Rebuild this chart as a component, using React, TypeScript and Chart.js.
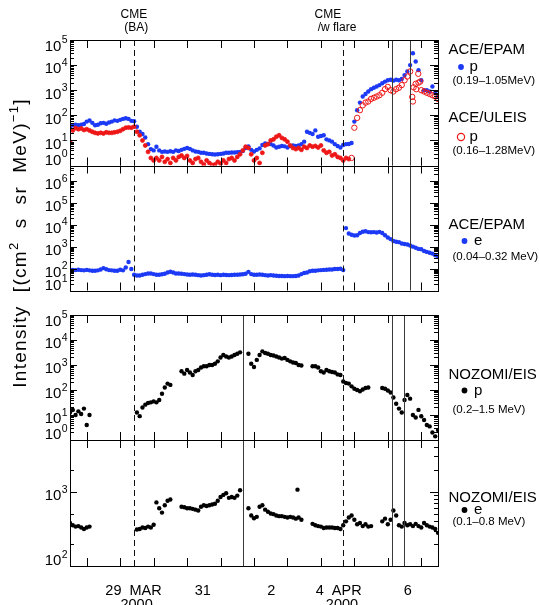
import React, { useEffect, useRef } from "react";
import { Chart, registerables } from "chart.js";

Chart.register(...registerables);

const FONT = '"Liberation Sans", Arial, Helvetica, sans-serif';
const BLUE = "rgb(28, 58, 245)";
const RED = "rgb(238, 22, 22)";
const BLACK = "#000";

// Time axis: days since 2000-03-29 00:00 UT. Series are sampled every 2 h from T_START.
const T_START = -1.5;
const T_STEP = 1 / 12;
const T_MIN = -1.5;
const T_MAX = 9.5;
// ULEIS symbols switch from small filled marks to open circles after this time
const ULEIS_RING_FROM = 6.9;

const dayTicks = [-1, 0, 1, 2, 3, 4, 5, 6, 7, 8, 9];
const dateLabels = ["29  MAR", "31", "2", "4  APR", "6"];
const dateLabelTimes = [0.4, 2.47, 4.52, 6.53, 8.6];
const yearLabels = ["2000", "2000"];
const yearLabelTimes = [0.49, 6.63];

const cmeTimes = [0.41, 6.66];
const cmeLabelLines = [["CME", "(BA)"], ["CME", "/w flare"]];
const cmeLabelTimes = [[0.41, 0.48], [6.21, 6.48]];
const aceMarkTimes = [8.125, 8.67];
const nozomiMarkTimes = [3.675, 8.125, 8.47];

// ACE/EPAM protons 0.19-1.05 MeV
const epamP = [
  32, 40, 42, 40, 42, 45, 56, 62, 50, 40, 42, 48, 50, 46, 52, 56, 63, 60, 66, 72,
  76, 72, 60, 58, 35, 22, 18, 13, 7.1, 4.5, 4.0, 5.6, 4.0, 3.5, 3.6, 3.5, 3.7, 3.5, 4.0, 3.8,
  4.2, 4.6, 5.0, 4.6, 4.0, 3.6, 3.5, 3.2, 3.2, 3.0, 2.9, 2.8, 2.75, 2.8, 2.9, 3.0, 3.2, 3.2, 3.3, 3.3,
  3.4, 3.5, 3.8, 5.0, 5.8, 4.2, 3.6, 4.2, 4.8, 6.6, 7.6, 7.2, 7.1, 6.3, 5.2, 5.6, 6.0, 5.8, 5.2, 6.0,
  6.3, 6.0, 6.3, 7.1, 8.9, 22, 20, 18, 25, 14, 15, 16, 11, 10, 8.9, 7.1, 6.0, 5.2, 6.6, 7.1,
  7.2, 7.9, 56, 160, 320, 560, 710, 890, 1100, 1260, 1400, 1600, 1900, 2200, 2500, 2600, 2400, 2600, 2500, 2800,
  4000, 5600, 10000, 29500, 14000, 6300, 2500, 1000, 1000, 890, 1400, 790, 560,
];

// ACE/ULEIS protons 0.16-1.28 MeV
const uleisP = [
  8.9, 25, 31, 28, 30, 26, 28, 25, 22, 20, 19, 20, 19, 21, 20, 20, 21, 22, 24, 28,
  32, 33, 32, 35, 22, 16, 10, 6.3, 3.5, 2.0, 1.6, 2.0, 1.6, 2.2, 1.4, 1.8, 1.26, 2.0, 1.6, 2.2,
  2.5, 2.0, 2.4, 1.6, 1.26, 1.8, 2.0, 1.4, 1.1, 1.6, 1.26, 1.05, 1.1, 1.4, 1.2, 1.6, 1.26, 1.8, 2.0, 1.6,
  2.2, 2.8, 4.0, 5.6, 5.0, 2.8, 1.6, 2.0, 1.26, 3.2, 6.3, 7.1, 10, 11, 14, 16, 12.6, 11, 8.9, 6.3,
  5.0, 4.5, 5.0, 4.2, 5.6, 5.0, 6.3, 5.6, 6.0, 5.2, 6.3, 4.0, 3.2, 3.5, 2.5, 2.8, 2.2, 2.0, 1.6, 2.0,
  1.8, 2.0, 32, 79, 160, 250, 320, 355, 450, 500, 560, 630, 790, 1100, 1350, 1000, 890, 1100, 1260, 1600,
  2500, 3500, 5600, 355, 1800, 2000, 1000, 890, 790, 710, 630, 560, 450,
];
const uleisExtraTimes = [8.73, 8.77, 8.85, 8.91, 8.97];
const uleisExtraValues = [540, 1300, 1100, 4500, 2200];

// ACE/EPAM electrons 0.04-0.32 MeV
const epamE = [
  89, 87, 85, 89, 85, 83, 87, 83, 79, 79, 83, 91, 105, 93, 85, 83, 79, 79, 89, 83,
  112, 200, 95, 52, 48, 48, 52, 56, 60, 60, 56, 52, 52, 55, 58, 66, 72, 66, 60, 60,
  58, 56, 54, 52, 54, 52, 50, 48, 50, 52, 55, 52, 51, 52, 50, 52, 51, 50, 51, 52,
  52, 54, 55, 58, 71, 56, 52, 52, 54, 52, 50, 48, 50, 48, 47, 46, 46, 45, 46, 45,
  45, 46, 48, 56, 63, 66, 76, 79, 79, 83, 85, 87, 89, 91, 91, 95, 95, 98, 85, 7000,
  4000, 3500, 3200, 3300, 4200, 4800, 5000, 4600, 4500, 4600, 4400, 4700, 4200, 3300, 2600, 2200, 1800, 1660, 1600, 1400,
  1320, 1260, 1120, 1000, 890, 790, 760, 630, 575, 525, 480, 400, 355,
];

// NOZOMI/EIS protons 0.2-1.5 MeV (null = no data)
const eisP = [
  12.6, 16, 10, 14, 11, 18, 4.0, 10, null, null, null, null, null, null, null, null, null, null, null, null,
  null, null, null, null, 12.6, 9, 20, 26, 30, 32, 35, 32, 40, 71, 126, 180, 160, null, null, null,
  560, 450, 630, 500, 400, 560, 630, 790, 890, 890, 1000, 1000, 1120, 1400, 2000, 2500, 2200, 2000, 2200, 2500,
  2800, 3200, null, null, 2800, 1120, 830, 1600, 2500, 3500, 3000, 2800, 2500, 2400, 2200, 2000, 1800, 1900, 1600, 1400,
  1260, 1200, 1000, 950, null, null, null, 890, 890, 790, 560, 500, 630, 560, 525, 500, 420, 400, 220, 190,
  180, 140, 112, 100, 89, 105, 120, 126, null, null, null, null, 120, 112, 95, 79, 50, 28, 18, 12.6,
  40, 63, 45, 10, 7.9, 16, 8.9, 6.3, 4.0, 3.5, 2.0, 1.4, 2.5,
];

// NOZOMI/EIS electrons 0.1-0.8 MeV (null = no data)
const eisE = [
  380, 355, 340, 345, 330, 316, 330, 340, null, null, null, null, null, null, null, null, null, null, null, null,
  null, null, null, null, 310, 316, 330, 325, 340, 330, 360, 720, 600, 525, 660, 760, 790, null, null, null,
  630, 620, 600, 600, 590, 575, 560, 630, 660, 645, 660, 675, 690, 760, 850, 910, 955, 830, 850, 830,
  890, 1050, null, null, 600, 480, 440, 460, 630, 660, 575, 540, 510, 500, 480, 470, 470, 460, 450, 460,
  450, 435, 450, 420, null, null, null, 370, 355, 345, 340, 325, 330, 330, 330, 325, 325, 316, 355, 400,
  450, 480, 420, 365, 380, 345, 365, 340, 345, null, null, null, 400, 435, 365, 420, 560, 480, 355, 340,
  380, 355, 365, 345, 370, 345, 330, 380, 355, 340, 330, 316, 280,
];
const eisEExtraTimes = [5.3];
const eisEExtraValues = [1070];

const panels = [
  { id: "y1", min: 1, max: 1e5, weight: 125.5, marks: aceMarkTimes, leftMinors: true },
  { id: "y2", min: 10, max: 5e6, weight: 125, marks: aceMarkTimes, leftMinors: true },
  { id: "y3", min: 1, max: 1e5, weight: 125, marks: nozomiMarkTimes, leftMinors: true },
  { id: "y4", min: 100, max: 5000, weight: 126, marks: nozomiMarkTimes, leftMinors: false },
];
const panel4LeftMinors = [200, 500, 2000];

const legends = [
  { panel: "y1", title: "ACE/EPAM", sym: "dot", color: BLUE, species: "p", range: "(0.19–1.05MeV)", y: [54, 71, 84] },
  { panel: "y1", title: "ACE/ULEIS", sym: "ring", color: RED, species: "p", range: "(0.16–1.28MeV)", y: [121.5, 141, 154] },
  { panel: "y2", title: "ACE/EPAM", sym: "dot", color: BLUE, species: "e", range: "(0.04–0.32 MeV)", y: [229.3, 245, 259.5] },
  { panel: "y3", title: "NOZOMI/EIS", sym: "dot", color: BLACK, species: "p", range: "(0.2–1.5 MeV)", y: [379.3, 394.5, 413] },
  { panel: "y4", title: "NOZOMI/EIS", sym: "dot", color: BLACK, species: "e", range: "(0.1–0.8 MeV)", y: [501.7, 514, 525] },
];

function toPoints(values: (number | null)[]) {
  const pts: { x: number; y: number }[] = [];
  values.forEach((v, i) => {
    if (v != null) pts.push({ x: T_START + i * T_STEP, y: v });
  });
  return pts;
}
function pairPoints(ts: number[], vs: number[]) {
  return ts.map((t, i) => ({ x: t, y: vs[i] }));
}

const a = (v: number) => Math.round(v) + 0.5;

function drawSup(ctx: CanvasRenderingContext2D, exp: number, xRight: number, baseline: number) {
  ctx.textAlign = "left";
  ctx.textBaseline = "alphabetic";
  ctx.font = `10.5px ${FONT}`;
  const es = String(exp);
  const ew = ctx.measureText(es).width;
  ctx.fillText(es, xRight - ew, baseline - 7.5);
  ctx.font = `15px ${FONT}`;
  ctx.textAlign = "right";
  ctx.fillText("10", xRight - ew - 0.5, baseline);
}

function spacedWidth(ctx: CanvasRenderingContext2D, text: string, sp: number) {
  let w = 0;
  for (const ch of text) w += ctx.measureText(ch).width + sp;
  return w;
}
function drawSpaced(ctx: CanvasRenderingContext2D, text: string, x: number, y: number, sp: number) {
  for (const ch of text) {
    ctx.fillText(ch, x, y);
    x += ctx.measureText(ch).width + sp;
  }
  return x;
}

const titleSegments = [
  { t: "Intensity", sup: false },
  { t: "  [(cm", sup: false },
  { t: "2", sup: true },
  { t: "  s  sr  MeV)", sup: false },
  { t: "−1", sup: true },
  { t: "]", sup: false },
];

const framePlugin = {
  id: "frames",
  afterDatasetsDraw(chart: any) {
    const ctx: CanvasRenderingContext2D = chart.ctx;
    const xs = chart.scales.x;
    const L = xs.left;
    const R = xs.right;
    ctx.save();
    ctx.fillStyle = BLACK;
    ctx.strokeStyle = BLACK;
    ctx.lineWidth = 1;

    for (const p of panels) {
      const ys = chart.scales[p.id];
      const top = ys.top;
      const bot = ys.bottom;
      // event lines
      ctx.setLineDash([6, 4]);
      ctx.strokeStyle = "#111";
      for (const t of cmeTimes) {
        const x = a(xs.getPixelForValue(t));
        ctx.beginPath();
        ctx.moveTo(x, top);
        ctx.lineTo(x, bot);
        ctx.stroke();
      }
      ctx.setLineDash([]);
      ctx.strokeStyle = "#3a3a3a";
      for (const t of p.marks) {
        const x = a(xs.getPixelForValue(t));
        ctx.beginPath();
        ctx.moveTo(x, top);
        ctx.lineTo(x, bot);
        ctx.stroke();
      }
      ctx.strokeStyle = BLACK;
      // frame
      ctx.strokeRect(a(L), a(top), Math.round(R) - Math.round(L), Math.round(bot) - Math.round(top));
      // x ticks
      ctx.beginPath();
      for (const t of dayTicks) {
        const x = a(xs.getPixelForValue(t));
        ctx.moveTo(x, top);
        ctx.lineTo(x, top + 8);
        ctx.moveTo(x, bot);
        ctx.lineTo(x, bot - 8);
      }
      ctx.stroke();
      // y ticks
      const lo = Math.floor(Math.log10(p.min));
      const hi = Math.ceil(Math.log10(p.max));
      ctx.beginPath();
      for (let e = lo; e <= hi; e++) {
        for (let m = 1; m <= 9; m++) {
          const v = m * Math.pow(10, e);
          if (v < p.min - 1e-9 || v > p.max + 1e-9) continue;
          const y = a(ys.getPixelForValue(v));
          const len = m === 1 ? 8 : 4;
          const leftOk = m === 1 || p.leftMinors || (p.id === "y4" && panel4LeftMinors.includes(v));
          if (leftOk) {
            ctx.moveTo(L, y);
            ctx.lineTo(L + (m === 1 ? 7 : 4), y);
          }
          ctx.moveTo(R, y);
          ctx.lineTo(R - len, y);
        }
      }
      ctx.stroke();
      // y tick labels
      for (let e = Math.ceil(Math.log10(p.min) - 1e-9); e <= Math.floor(Math.log10(p.max) + 1e-9); e++) {
        const y = ys.getPixelForValue(Math.pow(10, e));
        let c = y + 3;
        c = Math.max(c, top + 5.5);
        c = Math.min(c, bot - 6);
        drawSup(ctx, e, 67.7, c + 5.3);
      }
    }

    // CME annotations
    ctx.textAlign = "center";
    ctx.textBaseline = "alphabetic";
    ctx.font = `12px ${FONT}`;
    cmeLabelLines.forEach((lines, i) => {
      ctx.fillText(lines[0], xs.getPixelForValue(cmeLabelTimes[i][0]), 18.3);
      ctx.fillText(lines[1], xs.getPixelForValue(cmeLabelTimes[i][1]), 31);
    });

    // date labels
    ctx.font = `14.5px ${FONT}`;
    dateLabels.forEach((s, i) => ctx.fillText(s, xs.getPixelForValue(dateLabelTimes[i]), 595));
    yearLabels.forEach((s, i) => ctx.fillText(s, xs.getPixelForValue(yearLabelTimes[i]), 609));

    // legends
    for (const lg of legends) {
      ctx.textAlign = "left";
      ctx.fillStyle = BLACK;
      ctx.font = `15px ${FONT}`;
      ctx.fillText(lg.title, 448.5, lg.y[0]);
      const dotY = lg.y[1] - 4;
      if (lg.sym === "ring") {
        ctx.strokeStyle = lg.color;
        ctx.lineWidth = 1.2;
        ctx.beginPath();
        ctx.arc(461, dotY, 3.6, 0, Math.PI * 2);
        ctx.stroke();
      } else {
        ctx.fillStyle = lg.color;
        ctx.beginPath();
        ctx.arc(lg.panel === "y1" ? 461 : 464.5, dotY, 2.9, 0, Math.PI * 2);
        ctx.fill();
      }
      ctx.fillStyle = BLACK;
      ctx.fillText(lg.species, lg.panel === "y1" ? 469.5 : 474, lg.y[1]);
      ctx.font = `11.5px ${FONT}`;
      ctx.fillText(lg.range, 452.5, lg.y[2]);
    }

    // y-axis title (rotated)
    ctx.save();
    ctx.translate(25.5, 243);
    ctx.rotate(-Math.PI / 2);
    ctx.fillStyle = BLACK;
    ctx.textAlign = "left";
    const sp = 1.3;
    let total = 0;
    for (const seg of titleSegments) {
      ctx.font = seg.sup ? `13px ${FONT}` : `19px ${FONT}`;
      total += spacedWidth(ctx, seg.t, sp);
    }
    let x = -total / 2;
    for (const seg of titleSegments) {
      ctx.font = seg.sup ? `13px ${FONT}` : `19px ${FONT}`;
      x = drawSpaced(ctx, seg.t, x, seg.sup ? -8 : 0, sp);
    }
    ctx.restore();

    ctx.restore();
  },
};

export default function App() {
  const ref = useRef<HTMLCanvasElement>(null);
  useEffect(() => {
    const canvas = ref.current;
    if (!canvas) return;
    const logAxis = (min: number, max: number, weight: number) => ({
      type: "logarithmic" as const,
      min,
      max,
      display: false,
      position: "right" as const,
      stack: "panels",
      stackWeight: weight,
    });
    const isRing = (c: any) => c.raw && c.raw.x >= ULEIS_RING_FROM;
    const chart = new Chart(canvas, {
      type: "scatter",
      data: {
        datasets: [
          {
            label: "ACE/ULEIS p",
            data: toPoints(uleisP).concat(pairPoints(uleisExtraTimes, uleisExtraValues)),
            yAxisID: "y1",
            pointRadius: (c: any) => (isRing(c) ? 2.7 : 2.0),
            pointBorderWidth: (c: any) => (isRing(c) ? 1 : 0.8),
            borderColor: RED,
            backgroundColor: (c: any) => (isRing(c) ? "rgba(0,0,0,0)" : RED),
          },
          {
            label: "ACE/EPAM p",
            data: toPoints(epamP),
            yAxisID: "y1",
            pointRadius: 2.2,
            pointBorderWidth: 0,
            borderColor: BLUE,
            backgroundColor: BLUE,
          },
          {
            label: "ACE/EPAM e",
            data: toPoints(epamE),
            yAxisID: "y2",
            pointRadius: 2.2,
            pointBorderWidth: 0,
            borderColor: BLUE,
            backgroundColor: BLUE,
          },
          {
            label: "NOZOMI/EIS p",
            data: toPoints(eisP),
            yAxisID: "y3",
            pointRadius: 2.2,
            pointBorderWidth: 0,
            borderColor: BLACK,
            backgroundColor: BLACK,
          },
          {
            label: "NOZOMI/EIS e",
            data: toPoints(eisE).concat(pairPoints(eisEExtraTimes, eisEExtraValues)),
            yAxisID: "y4",
            pointRadius: 2.2,
            pointBorderWidth: 0,
            borderColor: BLACK,
            backgroundColor: BLACK,
          },
        ],
      },
      options: {
        responsive: false,
        animation: false,
        devicePixelRatio: 1,
        layout: { padding: { left: 70, right: 101, top: 40, bottom: 39 } },
        plugins: { legend: { display: false }, tooltip: { enabled: false } },
        scales: {
          x: { type: "linear", min: T_MIN, max: T_MAX, display: false },
          y1: logAxis(panels[0].min, panels[0].max, panels[0].weight),
          y2: logAxis(panels[1].min, panels[1].max, panels[1].weight),
          gap: { type: "linear", min: 0, max: 1, display: false, position: "right", stack: "panels", stackWeight: 24.5 },
          y3: logAxis(panels[2].min, panels[2].max, panels[2].weight),
          y4: logAxis(panels[3].min, panels[3].max, panels[3].weight),
        },
      } as any,
      plugins: [framePlugin],
    });
    return () => chart.destroy();
  }, []);
  return (
    <div style={{ position: "absolute", left: 0, top: 0, width: 539, height: 605, background: "#fff", overflow: "hidden" }}>
      <canvas ref={ref} width={539} height={605} style={{ display: "block", width: 539, height: 605 }} />
    </div>
  );
}
